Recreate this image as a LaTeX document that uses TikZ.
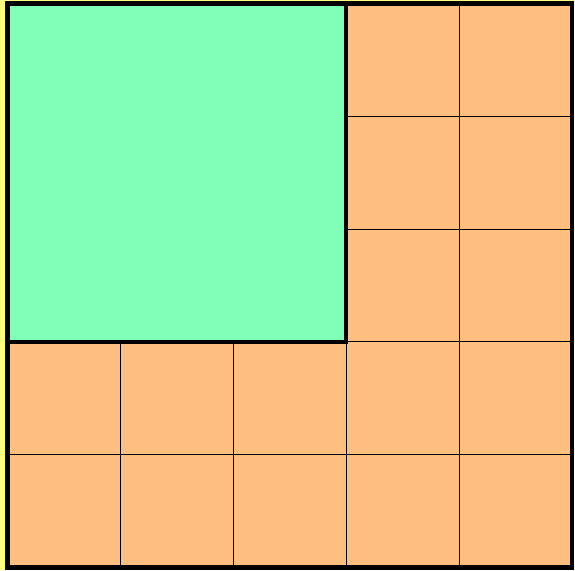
\documentclass[tikz,border=0pt]{standalone}
\usepackage{tikz}

\definecolor{paleyellow}{RGB}{255,255,128}
\definecolor{mintgreen}{RGB}{128,255,185}
\definecolor{peach}{RGB}{255,191,128}

\tikzset{
  thinline/.style={draw=black, line width=0.5pt},
  thickline/.style={draw=black, line width=2.3pt}
}

\begin{document}
\begin{tikzpicture}[x=0.02cm, y=-0.02cm]
\useasboundingbox (0,0) rectangle (575,571);
\fill[white] (0,0) rectangle (575,571);
\fill[paleyellow] (0,0) rectangle (573.5,569.5);
% orange cells
\fill[peach] (7.5,3.5) rectangle (572,567.5);
\foreach \i in {1,2,3,4}{
  \draw[thinline] ({7.5+112.9*\i},3.5) -- ({7.5+112.9*\i},567.5);
  \draw[thinline] (7.5,{3.5+112.8*\i}) -- (572,{3.5+112.8*\i});
}
% green square
\fill[mintgreen] (7.5,3.5) rectangle (346.2,341.9);
\draw[thickline] (346.2,3.5) -- (346.2,341.9) -- (7.5,341.9);
% outer frame
\draw[thickline] (7.5,3.5) rectangle (572,567.5);
\end{tikzpicture}
\end{document}
